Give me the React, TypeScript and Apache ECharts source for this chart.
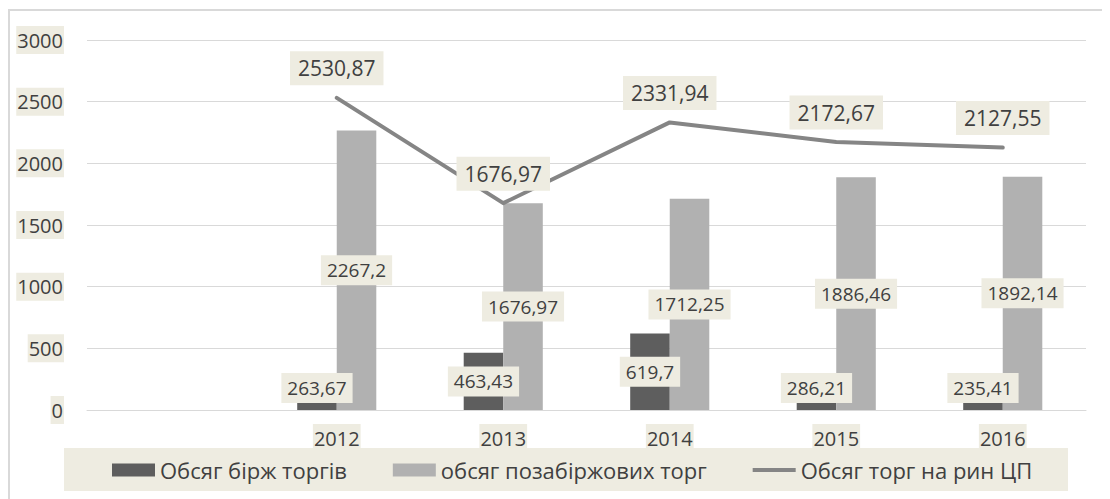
import React, { useEffect, useRef } from "react";
import * as echarts from "echarts";

const categories = ["", "2012", "2013", "2014", "2015", "2016"];
const exchangeVolume = [null, 263.67, 463.43, 619.7, 286.21, 235.41];
const otcVolume = [null, 2267.2, 1676.97, 1712.25, 1886.46, 1892.14];
const totalVolume = [null, 2530.87, 1676.97, 2331.94, 2172.67, 2127.55];
const seriesNames = ["Обсяг бірж торгів", "обсяг позабіржових торг", "Обсяг торг на рин ЦП"];
const yTicks = { min: 0, max: 3000, interval: 500 };

const FONT = "'Open Sans', 'Noto Sans', sans-serif";
const TEXT = "#404040";
const BEIGE = "#eeece1";
const LINE_ICON = "path://M0,0 L0.01,0 L0,0 Z M0,4.5 L43,4.5 L43,8.5 L0,8.5 Z M0,13 L0.01,13 L0,13 Z";

const fmt = (v: any) => String(v).replace(".", ",");

export default function App() {
  const ref = useRef<HTMLDivElement>(null);
  useEffect(() => {
    if (!ref.current) return;
    const chart = echarts.init(ref.current, null, { renderer: "svg" });
    const barLabel = {
      show: true,
      position: "inside",
      formatter: (p: any) => fmt(p.value),
      color: TEXT,
      fontFamily: FONT,
      fontSize: 19,
      backgroundColor: BEIGE,
      padding: [4, 6, 4, 6],
      lineHeight: 22,
    };
    chart.setOption({
      animation: false,
      textStyle: { fontFamily: FONT, color: TEXT },
      grid: { left: 79, right: 24, top: 32, bottom: 89 },
      graphic: [
        {
          type: "rect",
          z: 0,
          shape: { x: 1, y: 2, width: 1300, height: 700 },
          style: { fill: "none", stroke: "#d9d9d9", lineWidth: 2 },
        },
        {
          type: "rect",
          z: 0,
          shape: { x: 56, y: 440, width: 1004, height: 43 },
          style: { fill: BEIGE },
        },
      ],
      legend: {
        left: 104,
        top: 448,
        itemWidth: 43,
        itemHeight: 13,
        itemGap: 46,
        padding: 0,
        textStyle: { fontSize: 22, color: TEXT, fontFamily: FONT, lineHeight: 28 },
        data: [
          { name: seriesNames[0], icon: "rect" },
          { name: seriesNames[1], icon: "rect" },
          { name: seriesNames[2], icon: LINE_ICON, itemStyle: { color: "#858585" } },
        ],
      },
      xAxis: {
        type: "category",
        data: categories,
        axisLine: { show: true, lineStyle: { color: "#d9d9d9", width: 1 } },
        axisTick: { show: false },
        axisLabel: {
          interval: (_i: number, v: string) => v !== "",
          color: TEXT,
          fontSize: 20,
          fontFamily: FONT,
          margin: 14,
          backgroundColor: BEIGE,
          padding: [1, 1, 0, 1],
          lineHeight: 26,
        },
      },
      yAxis: {
        type: "value",
        min: yTicks.min,
        max: yTicks.max,
        interval: yTicks.interval,
        axisLine: { show: false },
        axisTick: { show: false },
        splitLine: { lineStyle: { color: "#d9d9d9", width: 1 } },
        axisLabel: {
          formatter: (v: number) => String(v),
          color: TEXT,
          fontSize: 20,
          fontFamily: FONT,
          margin: 23,
          backgroundColor: BEIGE,
          padding: [2, 1, 2, 1],
          lineHeight: 24,
        },
      },
      series: [
        {
          name: seriesNames[0],
          type: "bar",
          data: exchangeVolume,
          barGap: "0%",
          barCategoryGap: "52.5%",
          itemStyle: { color: "#5e5e5e" },
          label: barLabel,
          labelLayout: (p: any) => {
            const bottom = p.rect.y + p.rect.height;
            const lb = p.labelRect.y + p.labelRect.height;
            if (lb > bottom - 7) {
              return {
                x: p.labelRect.x + p.labelRect.width / 2,
                y: bottom - 7 - p.labelRect.height / 2,
                align: "center",
                verticalAlign: "middle",
              };
            }
            return {};
          },
        },
        {
          name: seriesNames[1],
          type: "bar",
          data: otcVolume,
          barGap: "0%",
          barCategoryGap: "52.5%",
          itemStyle: { color: "#b1b1b1" },
          label: barLabel,
        },
        {
          name: seriesNames[2],
          type: "line",
          data: totalVolume,
          showSymbol: true,
          symbol: "circle",
          symbolSize: 1,
          z: 5,
          lineStyle: { color: "#858585", width: 4, cap: "round", join: "round" },
          itemStyle: { color: "#858585" },
          label: {
            show: true,
            position: "top",
            distance: 12,
            formatter: (p: any) => fmt(p.value),
            color: TEXT,
            fontFamily: FONT,
            fontSize: 21,
            backgroundColor: BEIGE,
            padding: [4, 8, 4, 8],
            lineHeight: 26,
          },
        },
      ],
    });
    return () => chart.dispose();
  }, []);
  return <div ref={ref} style={{ width: 1102, height: 491 }} />;
}
